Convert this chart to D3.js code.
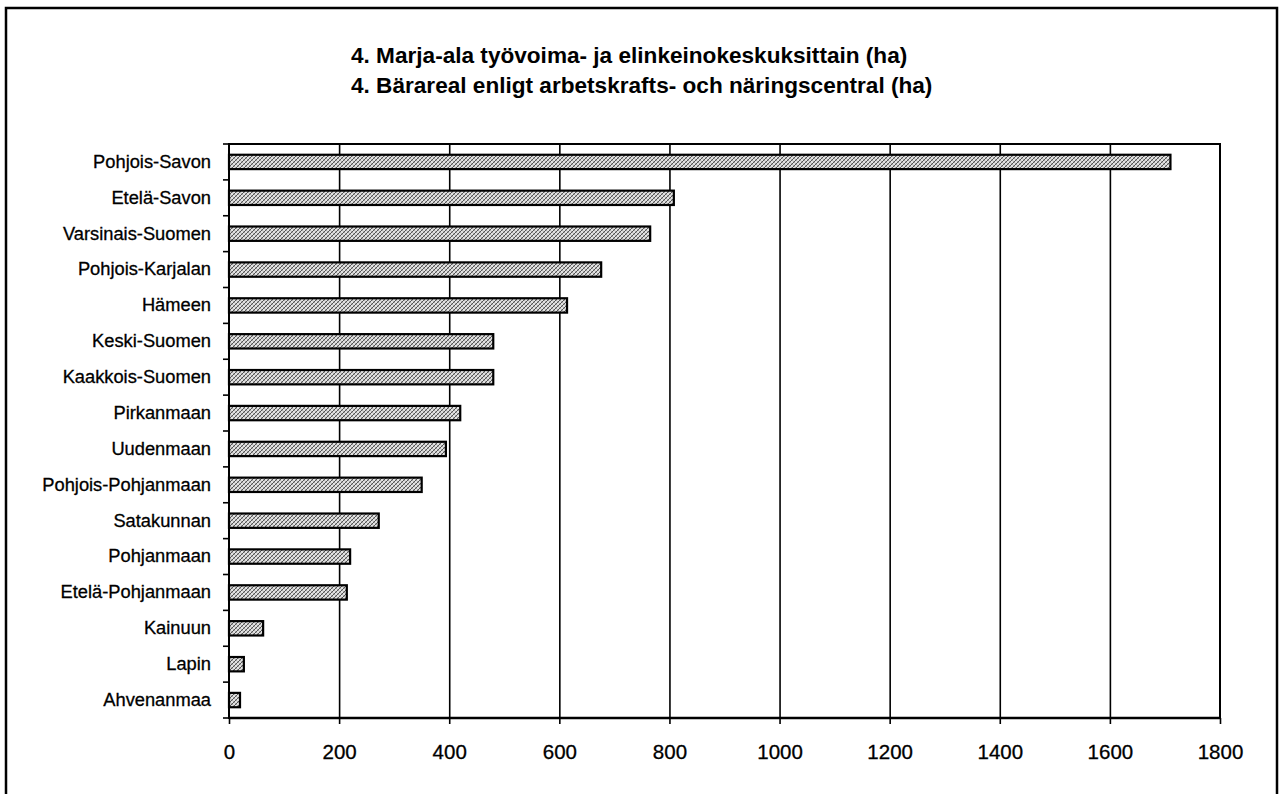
<!DOCTYPE html>
<html>
<head>
<meta charset="utf-8">
<script src="https://cdn.jsdelivr.net/npm/d3@7"></script>
<style>
  body { margin: 0; background: #fff; }
  text { font-family: "Liberation Sans", Arial, sans-serif; fill: #000; }
</style>
</head>
<body>
<div id="chart"></div>
<script>
// data
var regions = ["Pohjois-Savon", "Etelä-Savon", "Varsinais-Suomen", "Pohjois-Karjalan", "Hämeen",
  "Keski-Suomen", "Kaakkois-Suomen", "Pirkanmaan", "Uudenmaan", "Pohjois-Pohjanmaan",
  "Satakunnan", "Pohjanmaan", "Etelä-Pohjanmaan", "Kainuun", "Lapin", "Ahvenanmaa"];
var hectares = [1710, 808, 765, 676, 614, 480, 480, 420, 394, 350, 272, 220, 214, 62, 27, 20];
var xTicks = [0, 200, 400, 600, 800, 1000, 1200, 1400, 1600, 1800];
var titles = ["4. Marja-ala työvoima- ja elinkeinokeskuksittain (ha)",
  "4. Bärareal enligt arbetskrafts- och näringscentral (ha)"];

var width = 1282, height = 794;
// plot box (don't call it "top", clashes with window.top)
var pL = 229, pR = 1220, pT = 144, pB = 718;

var svg = d3.select("#chart").append("svg")
  .attr("width", width)
  .attr("height", height);

// crosshatch fill for the bars
var pat = svg.append("defs").append("pattern")
  .attr("id", "hatch")
  .attr("patternUnits", "userSpaceOnUse")
  .attr("width", 4)
  .attr("height", 4);
pat.append("rect").attr("width", 4).attr("height", 4).attr("fill", "#e2e2e2");
pat.append("path").attr("d", "M-1,1 L1,-1 M0,4 L4,0 M3,5 L5,3")
  .attr("stroke", "#555").attr("stroke-width", 1);
pat.append("path").attr("d", "M-1,3 L1,5 M0,0 L4,4 M3,-1 L5,1")
  .attr("stroke", "#888").attr("stroke-width", 0.6);

// outer frame
svg.append("rect")
  .attr("x", 6).attr("y", 8)
  .attr("width", 1271).attr("height", 820)
  .attr("fill", "none")
  .attr("stroke", "#000")
  .attr("stroke-width", 2.5);

// titles
svg.selectAll("text.title")
  .data(titles)
  .enter().append("text")
  .attr("class", "title")
  .attr("x", 351)
  .attr("y", (d, i) => 63 + i * 29.5)
  .style("font-size", "22.6px")
  .style("font-weight", "bold")
  .text(d => d);

var x = d3.scaleLinear().domain([0, 1800]).range([pL, pR]);
var y = d3.scaleBand().domain(regions).range([pT, pB])
  .paddingInner(0.6).paddingOuter(0.3);

// vertical grid
svg.append("g")
  .attr("transform", "translate(0," + pB + ")")
  .call(d3.axisBottom(x).tickValues(xTicks.slice(1, -1)).tickSize(-(pB - pT)).tickFormat(""))
  .call(g => g.select(".domain").remove())
  .selectAll("line")
  .attr("stroke", "#000")
  .attr("stroke-width", 1.6);

// plot frame
svg.append("rect")
  .attr("x", pL).attr("y", pT)
  .attr("width", pR - pL).attr("height", pB - pT)
  .attr("fill", "none")
  .attr("stroke", "#000")
  .attr("stroke-width", 2);

// bars
svg.selectAll("rect.bar")
  .data(regions)
  .enter().append("rect")
  .attr("class", "bar")
  .attr("x", x(0))
  .attr("y", d => y(d))
  .attr("width", (d, i) => x(hectares[i]) - x(0))
  .attr("height", y.bandwidth())
  .attr("fill", "url(#hatch)")
  .attr("stroke", "#000")
  .attr("stroke-width", 2.2);

// x axis
var xAxis = svg.append("g")
  .attr("transform", "translate(0," + pB + ")")
  .call(d3.axisBottom(x).tickValues(xTicks).tickSize(6).tickPadding(20).tickFormat(d3.format("d")));
xAxis.select(".domain").attr("stroke-width", 2.5).attr("d", "M" + pL + ",0H" + pR);
xAxis.selectAll("line").attr("stroke-width", 1.6);
xAxis.selectAll("text")
  .style("font-size", "20.5px")
  .style("font-family", "'Liberation Sans', Arial, sans-serif")
  .attr("stroke", "#000").attr("stroke-width", 0.3);

// y axis labels
var yAxis = svg.append("g")
  .attr("transform", "translate(" + pL + ",0)")
  .call(d3.axisLeft(y).tickSize(0).tickPadding(18));
yAxis.select(".domain").remove();
yAxis.selectAll("text")
  .style("font-size", "18.3px")
  .style("font-family", "'Liberation Sans', Arial, sans-serif")
  .attr("stroke", "#000").attr("stroke-width", 0.3);

// y tick marks between categories
var step = y.step();
var bounds = regions.map(d => y(d) + y.bandwidth() / 2 - step / 2).concat([pB]);
svg.selectAll("line.ytick")
  .data(bounds)
  .enter().append("line")
  .attr("class", "ytick")
  .attr("x1", pL - 6).attr("x2", pL)
  .attr("y1", d => d).attr("y2", d => d)
  .attr("stroke", "#000")
  .attr("stroke-width", 1.6);
</script>
</body>
</html>
